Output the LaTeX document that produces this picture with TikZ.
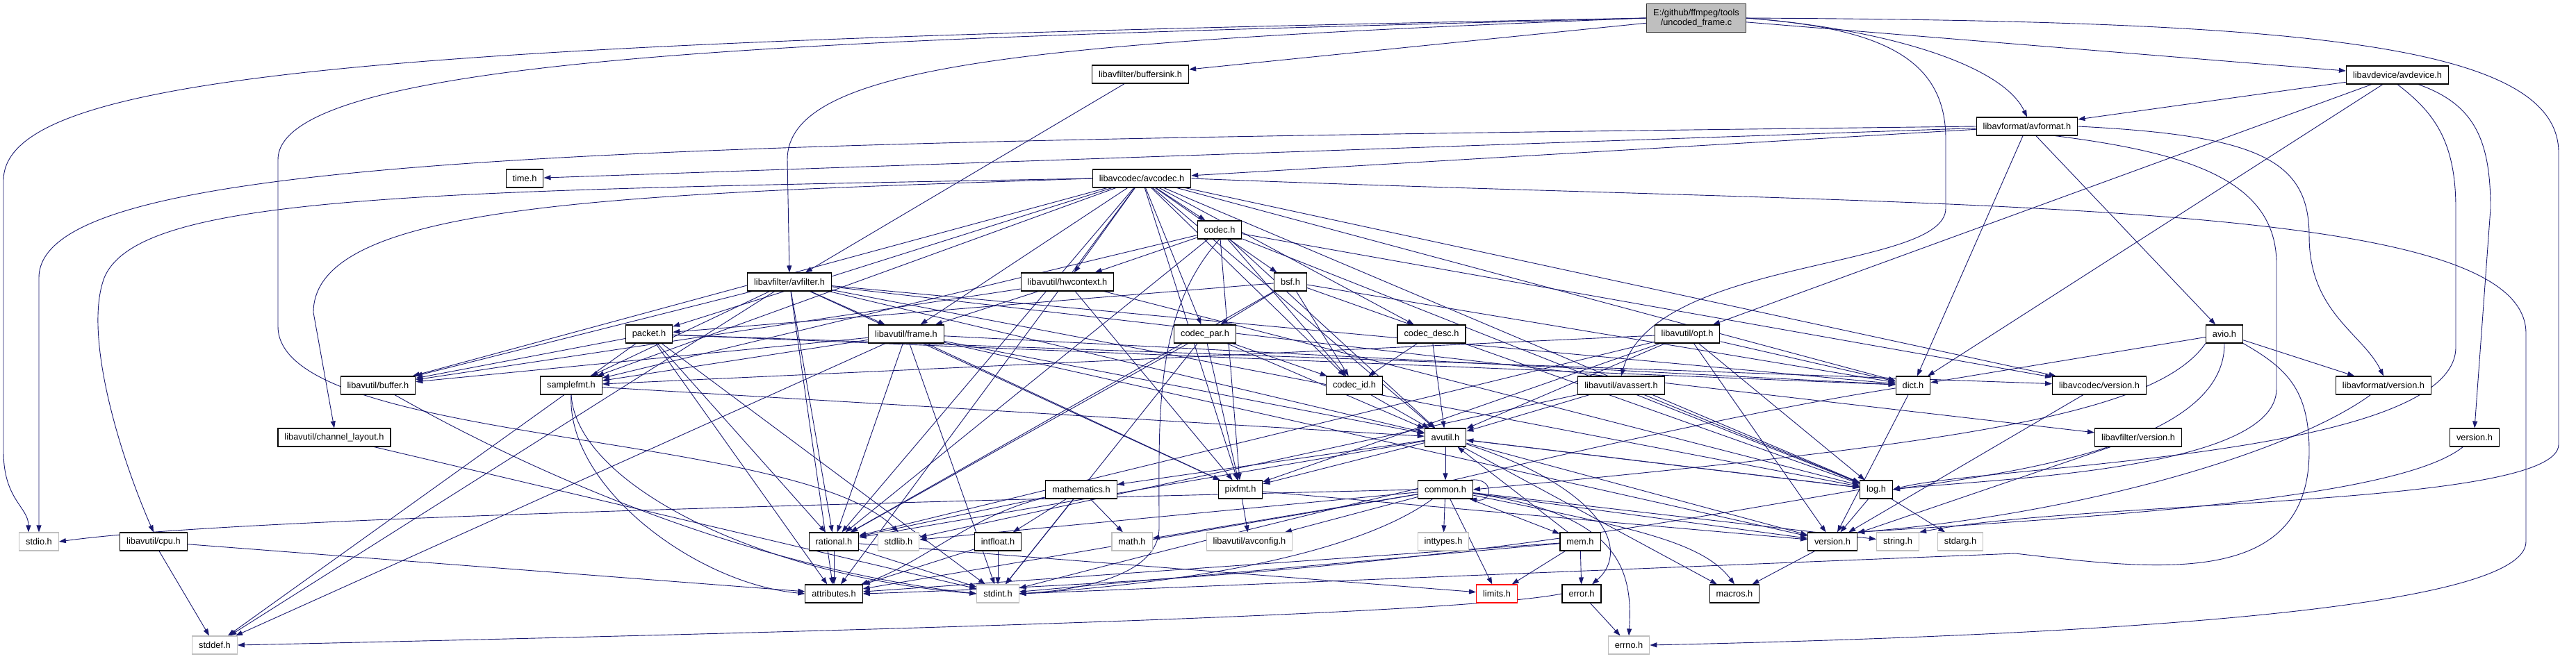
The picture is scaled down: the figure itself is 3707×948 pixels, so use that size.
\documentclass[tikz,border=0pt]{standalone}
\usepackage{fontspec}
\setmainfont{Liberation Sans}
\usetikzlibrary{arrows.meta,backgrounds}
\definecolor{dxedge}{HTML}{191970}
\definecolor{dxfill}{HTML}{BFBFBF}
\definecolor{dxline}{HTML}{BFBFBF}

\begin{document}
\begin{tikzpicture}[x=1pt, y=-1pt,
  hdr/.style={draw=black, fill=white, line width=1.1pt, minimum height=26pt,
    inner xsep=9.5pt, inner ysep=2pt, font=\fontsize{12.8}{14.5}\selectfont},
  sys/.style={hdr, draw=dxline},
  lost/.style={hdr, draw=red},
  srcfile/.style={hdr, fill=dxfill, draw=black!80, align=center, minimum height=41pt},
  inc/.style={color=dxedge, line width=0.9pt, -{Triangle[length=10pt,width=7pt]}}]
\useasboundingbox (0,0) rectangle (3707,948);
\node[srcfile] (root) at (2441,26) {E:/github/ffmpeg/tools\\/uncoded\_frame.c};
\node[hdr] (bsink) at (1641,107) {libavfilter/buffersink.h};
\node[hdr] (avdevice) at (3450,108) {libavdevice/avdevice.h};
\node[hdr] (avformat) at (2917,182) {libavformat/avformat.h};
\node[hdr] (timeh) at (755,257) {time.h};
\node[hdr] (avcodec) at (1643,257) {libavcodec/avcodec.h};
\node[hdr] (codec) at (1755,331) {codec.h};
\node[hdr] (avfilter) at (1136,406) {libavfilter/avfilter.h};
\node[hdr] (hwctx) at (1536,406) {libavutil/hwcontext.h};
\node[hdr] (bsf) at (1857,406) {bsf.h};
\node[hdr] (packet) at (934,481) {packet.h};
\node[hdr] (frame) at (1304,481) {libavutil/frame.h};
\node[hdr] (codecpar) at (1734,481) {codec\_par.h};
\node[hdr] (codecdesc) at (2060,481) {codec\_desc.h};
\node[hdr] (opt) at (2428,481) {libavutil/opt.h};
\node[hdr] (avio) at (3201,481) {avio.h};
\node[hdr] (buffer) at (544,555) {libavutil/buffer.h};
\node[hdr] (samplefmt) at (822,555) {samplefmt.h};
\node[hdr] (codecid) at (1949,555) {codec\_id.h};
\node[hdr] (avassert) at (2333,555) {libavutil/avassert.h};
\node[hdr] (dict) at (2753,555) {dict.h};
\node[hdr] (lavcver) at (3021,555) {libavcodec/version.h};
\node[hdr] (lavfver) at (3430,555) {libavformat/version.h};
\node[hdr] (chlayout) at (481,630) {libavutil/channel\_layout.h};
\node[hdr] (avutil) at (2080,630) {avutil.h};
\node[hdr] (lavfiver) at (3077,630) {libavfilter/version.h};
\node[hdr] (lavdver) at (3561,630) {version.h};
\node[hdr] (mathem) at (1556,705) {mathematics.h};
\node[hdr] (pixfmt) at (1785,705) {pixfmt.h};
\node[hdr] (common) at (2080,705) {common.h};
\node[hdr] (log) at (2700,705) {log.h};
\node[sys] (stdio) at (56,780) {stdio.h};
\node[hdr] (cpu) at (221,780) {libavutil/cpu.h};
\node[hdr] (rational) at (1200,780) {rational.h};
\node[sys] (stdlib) at (1293,780) {stdlib.h};
\node[hdr] (intfloat) at (1436,780) {intfloat.h};
\node[sys] (math) at (1629,780) {math.h};
\node[sys] (avconfig) at (1798,780) {libavutil/avconfig.h};
\node[sys] (inttypes) at (2077,780) {inttypes.h};
\node[hdr] (mem) at (2274,780) {mem.h};
\node[hdr] (version) at (2637,780) {version.h};
\node[sys] (string) at (2731,780) {string.h};
\node[sys] (stdarg) at (2821,780) {stdarg.h};
\node[hdr] (attrib) at (1200,855) {attributes.h};
\node[sys] (stdint) at (1436,855) {stdint.h};
\node[lost] (limits) at (2154,855) {limits.h};
\node[hdr] (error) at (2276,855) {error.h};
\node[hdr] (macros) at (2496,855) {macros.h};
\node[sys] (stddef) at (309,929) {stddef.h};
\node[sys] (errno) at (2344,929) {errno.h};
\begin{scope}[on background layer]
\fill[white] (0,0) rectangle (3707,948);
\path[inc] (root) edge (bsink) edge (avdevice);
\draw[inc] (root.west) .. controls (600,60) and (5,100) .. (5,260) -- (5,650)
  .. controls (5,720) and (41,730) .. ([xshift=-15pt]stdio.north);
\draw[inc] (root.west) .. controls (1300,55) and (400,70) .. (400,230) -- (400,470)
  .. controls (400,640) and (1150,620) .. (stdlib.north);
\draw[inc] (root.west) .. controls (1500,60) and (1133,90) .. (1133,230) -- (avfilter.north);
\draw[inc] (root.east) .. controls (3300,30) and (3682,60) .. (3682,220) -- (3682,640)
  .. controls (3682,730) and (3000,720) .. (string.north east);
\draw[inc] (root.east) .. controls (2700,40) and (2800,80) .. (2800,200) -- (2800,300)
  .. controls (2800,390) and (2380,370) .. (avassert.north);
\draw[inc] (root.east) .. controls (2700,40) and (2880,90) .. (avformat.north);
\path[inc] (bsink) edge (avfilter);
\path[inc] (avdevice) edge (avformat) edge (opt) edge (dict);
\draw[inc] (avdevice.south) .. controls (3500,160) and (3534,200) .. (3534,300) -- (3534,500)
  .. controls (3534,660) and (2850,670) .. (log.east);
\draw[inc] ([xshift=30pt]avdevice.south) .. controls (3560,150) and (3584,200) .. (3584,300)
  -- (lavdver.north);
\path[inc] (avformat) edge (timeh) edge (avcodec) edge (dict) edge (avio);
\draw[inc] (avformat.west) .. controls (900,205) and (56,220) .. (56,400) -- (stdio.north);
\draw[inc] (avformat.east) .. controls (3250,195) and (3323,230) .. (3323,340)
  .. controls (3323,450) and (3400,480) .. (lavfver.north);
\draw[inc] ([xshift=40pt]avformat.south) .. controls (3150,220) and (3276,260) .. (3276,380)
  -- (3276,560) .. controls (3276,680) and (2850,690) .. (log.east);
\path[inc] (avio) edge (dict) edge (lavfver);
\draw[inc] (avio.south west) .. controls (3100,600) and (2800,640) .. (common.east);
\draw[inc] (avio.south) .. controls (3202,640) and (2900,680) .. (log.east);
\draw[inc] (avio.south east) .. controls (3290,530) and (3323,560) .. (3323,650)
  .. controls (3323,850) and (3100,820) .. (2900,797) -- (stdint.east);
\path[inc] (avcodec) edge (samplefmt) edge (attrib) edge (avutil) edge (buffer) edge (dict)
  edge (frame) edge (hwctx) edge (log) edge (pixfmt) edge (rational) edge (bsf) edge (codec)
  edge (codecdesc) edge (codecpar) edge (codecid) edge (packet) edge (lavcver);
\draw[inc] (avcodec.east) .. controls (2800,300) and (3635,280) .. (3635,480) -- (3635,780)
  .. controls (3635,880) and (3000,915) .. (errno.east);
\draw[inc] (avcodec.west) .. controls (600,275) and (200,280) .. (150,400)
  .. controls (120,480) and (170,650) .. (cpu.north);
\draw[inc] (avcodec.west) .. controls (900,280) and (451,290) .. (451,450) -- (chlayout.north);
\path[inc] (codec) edge (avutil) edge (hwctx) edge (log) edge (pixfmt) edge (rational)
  edge (samplefmt) edge (codecid) edge (lavcver);
\draw[inc] (codec.south) .. controls (1660,450) and (1668,600) .. (1668,760)
  .. controls (1668,830) and (1550,850) .. (stdint.east);
\path[inc] (bsf) edge (dict) edge (log) edge (rational) edge (codecid) edge (codecpar) edge (packet);
\path[inc] (codecpar) edge (stdint) edge (avutil) edge (rational) edge (pixfmt) edge (codecid);
\path[inc] (codecdesc) edge (avutil) edge (codecid);
\path[inc] (codecid) edge (avutil);
\path[inc] (packet) edge (stddef) edge (stdint) edge (attrib) edge (buffer) edge (dict)
  edge (rational) edge (lavcver);
\path[inc] (avfilter) edge (stddef) edge (attrib) edge (avutil) edge (buffer) edge (dict)
  edge (frame) edge (log) edge (samplefmt) edge (pixfmt) edge (rational) edge (lavfiver);
\path[inc] (hwctx) edge (buffer) edge (frame) edge (log) edge (pixfmt);
\path[inc] (frame) edge (stddef) edge (stdint) edge (avutil) edge (buffer) edge (dict)
  edge (rational) edge (samplefmt) edge (pixfmt) edge (version);
\path[inc] (opt) edge (rational) edge (avutil) edge (dict) edge (log) edge (pixfmt)
  edge (samplefmt) edge (version);
\path[inc] (avassert) edge (stdlib) edge (avutil) edge (log);
\path[inc] (dict) edge (version);
\draw[inc] (dict) .. controls (2400,610) and (1800,760) .. (stdint);
\draw[inc] (buffer) .. controls (800,700) and (1100,820) .. (stdint.west);
\draw[inc] (samplefmt.south) .. controls (830,700) and (1100,830) .. (stdint.west);
\draw[inc] (samplefmt.south) .. controls (815,700) and (1000,840) .. (attrib.west);
\path[inc] (samplefmt) edge (avutil);
\path[inc] (chlayout) edge (stdint);
\path[inc] (cpu) edge (stddef) edge (attrib);
\path[inc] (avutil) edge (common) edge (rational) edge (version) edge (macros) edge (mathem)
  edge (log) edge (pixfmt);
\draw[inc] (avutil) .. controls (2300,700) and (2350,790) .. ([xshift=15pt]error.north);
\path[inc] (common) edge (inttypes) edge (limits) edge (math) edge (stdlib) edge (string)
  edge (attrib) edge (version) edge (avconfig) edge (mem);
\draw[inc] (common) .. controls (2330,740) and (2350,820) .. (errno.north);
\draw[inc] (common) .. controls (2350,760) and (2450,780) .. (macros.north);
\draw[inc] (common) .. controls (1950,800) and (1700,840) .. (stdint.east);
\draw[inc] (common.west) .. controls (1000,730) and (300,750) .. (stdio.east);
\draw[inc] ([xshift=-5pt]common.north east) .. controls (2150,686) and (2150,724)
  .. ([xshift=-5pt]common.south east);
\path[inc] (mem) edge (limits) edge (stdint) edge (attrib) edge (error) edge (avutil);
\path[inc] (mathem) edge (stdint) edge (math) edge (rational) edge (intfloat);
\draw[inc] (mathem) .. controls (1400,740) and (1330,810) .. (attrib);
\path[inc] (intfloat) edge (stdint) edge (attrib);
\path[inc] (rational) edge (stdint) edge (limits) edge (attrib);
\path[inc] (error) edge (errno);
\draw[inc] (error.west) .. controls (2100,885) and (1200,910) .. (stddef.east);
\path[inc] (log) edge (stdarg) edge (avutil) edge (version);
\draw[inc] (log.west) .. controls (2350,760) and (2000,830) .. (attrib.east);
\path[inc] (version) edge (macros);
\path[inc] (pixfmt) edge (avconfig) edge (version);
\path[inc] (lavcver) edge (version);
\path[inc] (lavfiver) edge (version);
\draw[inc] (lavfver) .. controls (3300,650) and (3000,740) .. (version.north east);
\draw[inc] (lavdver) .. controls (3450,720) and (3000,745) .. (version.north east);
\end{scope}
\end{tikzpicture}
\end{document}
